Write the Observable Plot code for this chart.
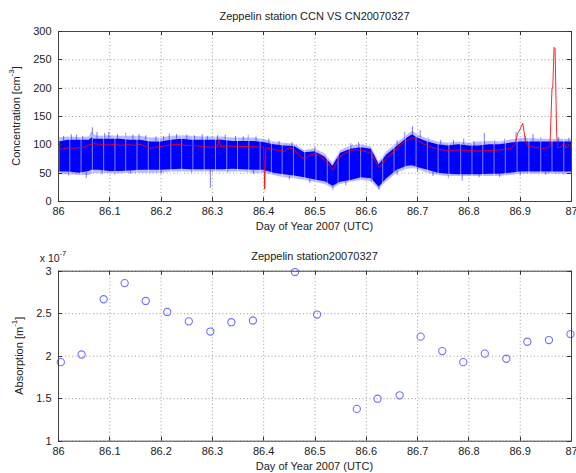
<!DOCTYPE html>
<html><head><meta charset="utf-8">
<script src="https://cdn.jsdelivr.net/npm/d3@7"></script>
<script src="https://cdn.jsdelivr.net/npm/@observablehq/plot@0.6"></script>
<style>
html,body{margin:0;padding:0;background:#fff;}
#c{width:576px;height:473px;}
svg{display:block;}
</style></head><body><div id="c"></div>
<script>
// ---------- tick labels ----------
const xTicks = [86, 86.1, 86.2, 86.3, 86.4, 86.5, 86.6, 86.7, 86.8, 86.9, 87];
const yTicksTop = [0, 50, 100, 150, 200, 250, 300];
const yTicksBot = [1, 1.5, 2, 2.5, 3];

// ---------- CN (blue) band ----------
const cnT   = [86.00,86.02,86.04,86.06,86.065,86.07,86.08,86.10,86.12,86.14,86.16,86.18,86.20,86.22,86.24,86.26,86.28,86.30,86.32,86.34,86.36,86.38,86.40,86.42,86.44,86.46,86.48,86.50,86.52,86.535,86.55,86.57,86.59,86.61,86.625,86.64,86.66,86.68,86.69,86.70,86.72,86.74,86.76,86.78,86.80,86.82,86.84,86.86,86.88,86.90,86.92,86.94,86.96,86.98,87.00];
const cnTop = [105,108,108,108,112,110,110,110,110,108,108,105,105,108,110,108,108,108,108,106,106,106,104,100,98,97,86,88,78,62,85,92,95,92,65,82,97,112,118,112,105,100,98,100,98,98,100,100,103,105,105,105,105,105,105];
const cnBot = [52,52,50,53,55,55,55,53,53,54,55,55,55,56,57,56,56,56,56,57,56,55,55,50,47,45,42,38,35,27,34,37,42,40,25,40,55,62,63,60,55,50,48,47,47,47,48,48,50,52,52,52,52,52,52];
const cnHi  = [112,114,113,114,124,117,115,116,115,115,115,112,112,115,116,115,114,114,114,112,112,112,110,105,103,101,90,93,84,67,90,98,100,96,70,88,103,117,124,118,110,105,103,105,103,105,106,105,108,111,111,110,110,110,109];
const cnLo  = [47,47,46,46,48,50,50,49,49,50,50,50,50,52,52,52,52,52,52,52,52,50,50,46,42,40,37,34,30,23,30,34,37,35,21,35,50,57,58,57,50,46,44,44,44,44,44,44,46,48,48,48,48,48,48];
// isolated spikes of the blue trace (from band edge to tip)
const spikeT    = [86.01,86.025,86.035,86.047,86.066,86.075,86.09,86.098,86.115,86.131,86.145,86.157,86.17,86.19,86.205,86.216,86.23,86.25,86.265,86.28,86.29,86.31,86.325,86.345,86.36,86.37,86.385,86.41,86.43,86.455,86.5,86.57,86.585,86.66,86.675,86.69,86.705,86.72,86.745,86.77,86.79,86.81,86.83,86.85,86.87,86.892,86.91,86.925,86.94,86.975,86.995,
                   86.02,86.054,86.085,86.11,86.14,86.2,86.26,86.296,86.33,86.38,86.45,86.49,86.535,86.56,86.61,86.625,86.66,86.7,86.73,86.76,86.787,86.82,86.86,86.9,86.95,86.985];
const spikeFrom = [105,108,108,108,108,110,110,110,110,110,108,108,108,105,105,108,110,108,108,108,108,108,108,106,106,106,106,102,99,97,88,92,95,97,110,118,112,105,100,99,100,98,98,100,100,104,105,105,105,105,105,
                   52,53,55,53,54,55,56,56,56,55,45,40,27,35,40,25,55,60,52,48,47,47,48,52,52,52];
const spikeTo   = [115,118,117,115,130,122,120,122,118,120,117,118,116,114,115,119,118,117,116,118,115,116,117,115,114,117,114,110,106,104,96,102,104,107,122,132,125,112,108,108,110,106,120,108,110,122,115,118,113,113,112,
                   45,40,47,46,48,48,50,23,50,48,38,32,20,28,33,20,46,52,44,40,36,42,42,46,46,46];
// white data gaps in the blue trace
const gapT = [86.001,86.022,86.044,86.066,86.088,86.110,86.131,86.153,86.175,86.197,86.219,86.240,86.262,86.284,86.306,86.328,86.349,86.371,86.393,86.415,86.436,86.458,86.480,86.502,86.524,86.545,86.567,86.589,86.611,86.632,86.654,86.676,86.697,86.719,86.740,86.761,86.784,86.806,86.827,86.849,86.871,86.894,86.917,86.940,86.962,86.985];

// ---------- CCN (red) ----------
const ccnT = [86.000,86.010,86.020,86.030,86.040,86.050,86.060,86.070,86.080,86.090,86.100,86.110,86.120,86.130,86.140,86.150,86.160,86.170,86.180,86.190,86.200,86.210,86.220,86.230,86.240,86.250,86.260,86.270,86.280,86.290,86.300,86.310,86.313,86.316,86.330,86.350,86.370,86.390,86.400,86.402,86.404,86.420,86.430,86.440,86.450,86.460,86.470,86.480,86.490,86.500,86.510,86.520,86.530,86.535,86.540,86.550,86.560,86.570,86.580,86.590,86.600,86.610,86.620,86.625,86.630,86.640,86.650,86.660,86.670,86.680,86.690,86.700,86.710,86.720,86.730,86.740,86.760,86.780,86.800,86.820,86.840,86.860,86.880,86.890,86.895,86.900,86.905,86.910,86.915,86.930,86.950,86.958,86.962,86.9635,86.966,86.968,86.971,86.973,86.980,86.985,86.990,86.995,87.000];
const ccnV = [92,93,95,94,95,96,100,102,101,100,100,101,99,100,100,99,101,97,94,96,97,99,100,101,100,99,99,98,97,96,96,98,110,97,98,97,97,96,96,22,95,92,90,88,95,91,80,75,82,85,80,72,62,55,65,80,86,90,92,90,88,84,68,60,66,78,85,95,103,108,113,108,102,98,95,92,90,91,90,89,90,91,93,100,120,128,138,108,98,95,94,97,200,200,272,270,120,95,96,103,94,99,94];

// ---------- absorption (x 1e-7 m^-1) ----------
const absT = [86.0045,86.045,86.088,86.129,86.170,86.212,86.254,86.296,86.337,86.379,86.461,86.504,86.5815,86.622,86.665,86.706,86.748,86.789,86.831,86.873,86.914,86.956,86.998];
const absV = [1.93,2.02,2.67,2.86,2.65,2.52,2.41,2.29,2.40,2.42,2.99,2.49,1.38,1.50,1.54,2.23,2.06,1.93,2.03,1.97,2.17,2.19,2.26];

// ---------- build tables ----------
const cn = cnT.map((t, i) => ({t, top: cnTop[i], bot: cnBot[i], hi: cnHi[i], lo: cnLo[i]}));
const spikes = spikeT.map((t, i) => ({t, a: spikeFrom[i], b: spikeTo[i]}));
const ccn = ccnT.map((t, i) => ({t, v: ccnV[i]}));
const abs = absT.map((t, i) => ({t, v: absV[i]}));

const FONT = "'Liberation Sans', Arial, Helvetica, sans-serif";
const TXT = "#222";
const grid = {stroke: "#9a9a9a", strokeOpacity: 1, strokeDasharray: "1,2.5", strokeWidth: 1};

function axes(yTicks) {
  return [
    Plot.axisX(xTicks, {anchor: "bottom", tickSize: 0, tickPadding: 6, fontSize: 11, fill: TXT, tickFormat: d => String(d), label: null}),
    Plot.axisY(yTicks, {anchor: "left", tickSize: 0, tickPadding: 7, fontSize: 11, fill: TXT, tickFormat: d => String(d), label: null})
  ];
}

function decorate(svg, yTicks, o) {
  const sx = svg.scale("x"), sy = svg.scale("y");
  const [xa, xb] = sx.range;
  const [ya, yb] = sy.range; // ya bottom, yb top
  const s = d3.select(svg);
  const g = s.append("g").attr("stroke", "#333").attr("stroke-width", 1);
  const L = 4;
  for (const t of xTicks) {
    const x = Math.round(sx.apply(t)) + 0.5;
    g.append("line").attr("x1", x).attr("x2", x).attr("y1", ya).attr("y2", ya - L);
    g.append("line").attr("x1", x).attr("x2", x).attr("y1", yb).attr("y2", yb + L);
  }
  for (const v of yTicks) {
    const y = Math.round(sy.apply(v)) + 0.5;
    g.append("line").attr("x1", xa).attr("x2", xa + L).attr("y1", y).attr("y2", y);
    g.append("line").attr("x1", xb).attr("x2", xb - L).attr("y1", y).attr("y2", y);
  }
  const cx = (xa + xb) / 2;
  const t = s.append("g").attr("font-family", FONT).attr("font-size", 11).attr("fill", TXT);
  t.append("text").attr("x", cx).attr("y", yb - 13.5).attr("text-anchor", "middle").attr("dominant-baseline", "middle").text(o.title);
  t.append("text").attr("x", cx).attr("y", ya + 26).attr("text-anchor", "middle").attr("dominant-baseline", "middle").text("Day of Year 2007 (UTC)");
  const yl = t.append("text").attr("transform", `translate(${o.ylx},${(ya + yb) / 2}) rotate(-90)`).attr("text-anchor", "middle").attr("dominant-baseline", "middle");
  yl.append("tspan").text(o.ylab);
  yl.append("tspan").attr("font-size", 8).attr("dy", -5).text(o.sup);
  yl.append("tspan").attr("dy", 5).text("]");
  if (o.mult) {
    const m = t.append("text").attr("x", xa - 5).attr("y", yb - 12).attr("dominant-baseline", "middle").attr("font-size", 10.5);
    m.append("tspan").text("x 10");
    m.append("tspan").attr("font-size", 7.5).attr("dy", -5).text("-7");
  }
}

const topChart = Plot.plot({
  width: 576, height: 236,
  marginTop: 31, marginBottom: 35, marginLeft: 58, marginRight: 5,
  style: {fontFamily: FONT, fontSize: "11px", background: "#fff"},
  x: {domain: [86, 87], axis: null},
  y: {domain: [0, 300], axis: null},
  marks: [
    Plot.gridX(xTicks, grid),
    Plot.gridY(yTicksTop, grid),
    Plot.areaY(cn, {x: "t", y1: "lo", y2: "hi", fill: "#3a3aff", fillOpacity: 0.35}),
    Plot.areaY(cn, {x: "t", y1: "bot", y2: "top", fill: "#0000ff"}),
    Plot.ruleX(spikes, {x: "t", y1: "a", y2: "b", stroke: "#2020ff", strokeOpacity: 0.6, strokeWidth: 1}),
    Plot.ruleX(gapT, {x: d => d, y1: 22, y2: 118, stroke: "#fff", strokeOpacity: 0.5, strokeWidth: 1}),
    Plot.lineY(ccn, {x: "t", y: "v", stroke: "#ff0000", strokeOpacity: 0.85, strokeWidth: 1}),
    Plot.frame({stroke: "#444"}),
    ...axes(yTicksTop)
  ]
});
decorate(topChart, yTicksTop, {title: "Zeppelin station CCN VS CN20070327", ylab: "Concentration [cm", sup: "-3", ylx: 17});

const botChart = Plot.plot({
  width: 576, height: 237,
  marginTop: 34.7, marginBottom: 32.3, marginLeft: 58, marginRight: 5,
  style: {fontFamily: FONT, fontSize: "11px", background: "#fff"},
  x: {domain: [86, 87], axis: null},
  y: {domain: [1, 3], axis: null},
  marks: [
    Plot.gridX(xTicks, grid),
    Plot.gridY(yTicksBot, grid),
    Plot.dot(abs, {x: "t", y: "v", r: 3.6, stroke: "#7070ff", fill: "none", strokeWidth: 1.1}),
    Plot.frame({stroke: "#444"}),
    ...axes(yTicksBot)
  ]
});
decorate(botChart, yTicksBot, {title: "Zeppelin station20070327", ylab: "Absorption [m", sup: "-1", ylx: 20, mult: true});

document.getElementById("c").append(topChart, botChart);
</script>
</body></html>
